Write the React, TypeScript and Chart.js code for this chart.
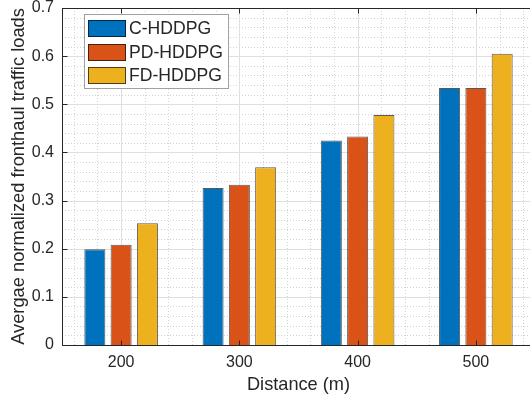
import React, { useEffect, useRef } from 'react';
import { Chart, registerables } from 'chart.js';

Chart.register(...registerables);

const categories = ['200', '300', '400', '500'];
const seriesNames = ['C-HDDPG', 'PD-HDDPG', 'FD-HDDPG'];
const cHddpg = [0.199, 0.326, 0.425, 0.534];
const pdHddpg = [0.208, 0.333, 0.433, 0.534];
const fdHddpg = [0.253, 0.369, 0.478, 0.605];
const seriesColors = ['#0072BD', '#D95319', '#EDB120'];
const yMin = 0;
const yMax = 0.7;
const yStep = 0.1;
const yMinorStep = 0.02;
const xMinorStep = 20;
const xLabel = 'Distance (m)';
const yLabel = 'Avergae normalized fronthaul traffic loads';

const FONT = "'Liberation Sans', Arial, Helvetica, sans-serif";
const TEXT = '#262626';

const matlabPlugin = {
  id: 'matlabDecor',
  beforeDatasetsDraw(chart: any) {
    const { ctx, chartArea: a, scales } = chart;
    const xs = scales.x;
    const ys = scales.y;
    const c0 = Number(categories[0]);
    const cStep = Number(categories[1]) - Number(categories[0]);
    const xMinV = c0 - cStep / 2;
    const xMaxV = Number(categories[categories.length - 1]) + cStep / 2;
    const xPix = (d: number) => xs.getPixelForValue((d - c0) / cStep);
    ctx.save();
    // minor grid
    ctx.strokeStyle = '#d2d2d2';
    ctx.lineWidth = 1;
    ctx.setLineDash([1, 2]);
    const nMinorY = Math.round((yMax - yMin) / yMinorStep);
    const ratio = Math.round(yStep / yMinorStep);
    for (let i = 1; i < nMinorY; i++) {
      if (i % ratio === 0) continue;
      const py = Math.round(ys.getPixelForValue(yMin + i * yMinorStep)) + 0.5;
      ctx.beginPath();
      ctx.moveTo(a.left, py);
      ctx.lineTo(a.right, py);
      ctx.stroke();
    }
    for (let d = Math.ceil(xMinV / xMinorStep) * xMinorStep; d < xMaxV; d += xMinorStep) {
      if (d <= xMinV) continue;
      if ((d - c0) % cStep === 0) continue;
      const px = Math.round(xPix(d)) + 0.5;
      ctx.beginPath();
      ctx.moveTo(px, a.top);
      ctx.lineTo(px, a.bottom);
      ctx.stroke();
    }
    // major grid
    ctx.setLineDash([]);
    ctx.strokeStyle = '#dfdfdf';
    const nMajorY = Math.round((yMax - yMin) / yStep);
    for (let i = 1; i < nMajorY; i++) {
      const py = Math.round(ys.getPixelForValue(yMin + i * yStep)) + 0.5;
      ctx.beginPath();
      ctx.moveTo(a.left, py);
      ctx.lineTo(a.right, py);
      ctx.stroke();
    }
    categories.forEach((_, i) => {
      const px = Math.round(xs.getPixelForValue(i)) + 0.5;
      ctx.beginPath();
      ctx.moveTo(px, a.top);
      ctx.lineTo(px, a.bottom);
      ctx.stroke();
    });
    ctx.restore();
  },
  afterDatasetsDraw(chart: any) {
    const { ctx, chartArea: a, scales } = chart;
    const xs = scales.x;
    const ys = scales.y;
    ctx.save();
    ctx.strokeStyle = TEXT;
    ctx.lineWidth = 1;
    const L = Math.round(a.left) + 0.5;
    const R = Math.round(a.right) + 0.5;
    const T = Math.round(a.top) + 0.5;
    const B = Math.round(a.bottom) + 0.5;
    ctx.strokeRect(L, T, R - L, B - T);
    const tl = 5;
    const nMajorY = Math.round((yMax - yMin) / yStep);
    for (let i = 0; i <= nMajorY; i++) {
      const py = Math.round(ys.getPixelForValue(yMin + i * yStep)) + 0.5;
      ctx.beginPath();
      ctx.moveTo(L, py);
      ctx.lineTo(L + tl, py);
      ctx.moveTo(R, py);
      ctx.lineTo(R - tl, py);
      ctx.stroke();
    }
    categories.forEach((_, i) => {
      const px = Math.round(xs.getPixelForValue(i)) + 0.5;
      ctx.beginPath();
      ctx.moveTo(px, B);
      ctx.lineTo(px, B - tl);
      ctx.moveTo(px, T);
      ctx.lineTo(px, T + tl);
      ctx.stroke();
    });
    // legend
    const lx = Math.round(a.left) + 22;
    const ly = Math.round(a.top) + 6;
    const lw = 144;
    const lh = 74;
    ctx.fillStyle = '#ffffff';
    ctx.fillRect(lx, ly, lw, lh);
    ctx.strokeStyle = '#a0a0a0';
    ctx.strokeRect(lx + 0.5, ly + 0.5, lw, lh);
    ctx.font = `17.6px ${FONT}`;
    ctx.textBaseline = 'middle';
    ctx.textAlign = 'left';
    chart.data.datasets.forEach((ds: any, i: number) => {
      const cy = ly + 14.5 + i * 23.5;
      ctx.fillStyle = ds.backgroundColor;
      ctx.fillRect(lx + 4, Math.round(cy - 8.5), 38, 17);
      ctx.strokeStyle = 'rgba(0,0,0,0.65)';
      ctx.strokeRect(lx + 4.5, Math.round(cy - 8.5) + 0.5, 37, 16);
      ctx.fillStyle = TEXT;
      ctx.fillText(ds.label, lx + 45, cy + 1);
    });
    ctx.restore();
  },
};

const zeroPad = (s: any) => {
  s.paddingLeft = 0;
  s.paddingRight = 0;
  s.paddingTop = 0;
  s.paddingBottom = 0;
};

export default function App() {
  const ref = useRef<HTMLCanvasElement>(null);
  useEffect(() => {
    if (!ref.current) return;
    const seriesValues = [cHddpg, pdHddpg, fdHddpg];
    const chart = new Chart(ref.current, {
      type: 'bar',
      data: {
        labels: categories,
        datasets: seriesNames.map((name, i) => ({
          label: name,
          data: seriesValues[i],
          backgroundColor: seriesColors[i],
          borderColor: 'rgba(0,0,0,0.65)',
          borderWidth: 1,
          categoryPercentage: 0.667,
          barPercentage: 0.8,
        })),
      },
      options: {
        animation: false,
        responsive: false,
        devicePixelRatio: 1,
        layout: { padding: { top: 8, left: 0, right: 10, bottom: 0 } },
        plugins: { legend: { display: false }, tooltip: { enabled: false } },
        scales: {
          x: {
            type: 'category',
            offset: true,
            grid: { display: false, drawTicks: false },
            border: { display: false },
            ticks: {
              color: TEXT,
              padding: 8,
              font: { family: FONT, size: 16, lineHeight: 1.2 },
              maxRotation: 0,
            },
            title: {
              display: true,
              text: xLabel,
              color: TEXT,
              font: { family: FONT, size: 18.2, lineHeight: 1.2 },
              padding: { top: 0, bottom: 4.7 },
            },
            afterFit: (s: any) => {
              s.height = 56;
              zeroPad(s);
            },
          },
          y: {
            type: 'linear',
            min: yMin,
            max: yMax,
            grid: { display: false, drawTicks: false },
            border: { display: false },
            ticks: {
              stepSize: yStep,
              color: TEXT,
              padding: 8,
              font: { family: FONT, size: 16, lineHeight: 1 },
            },
            title: {
              display: true,
              text: yLabel,
              color: TEXT,
              font: { family: FONT, size: 18.3, lineHeight: 1.2 },
              padding: { top: 7.7, bottom: 0 },
            },
            afterFit: (s: any) => {
              s.width = 62;
              zeroPad(s);
            },
          },
        },
      },
      plugins: [matlabPlugin],
    });
    return () => chart.destroy();
  }, []);
  return (
    <div style={{ position: 'fixed', left: 0, top: 0, width: 545, height: 401, background: '#fff' }}>
      <canvas ref={ref} width={545} height={401} style={{ display: 'block' }} />
    </div>
  );
}
